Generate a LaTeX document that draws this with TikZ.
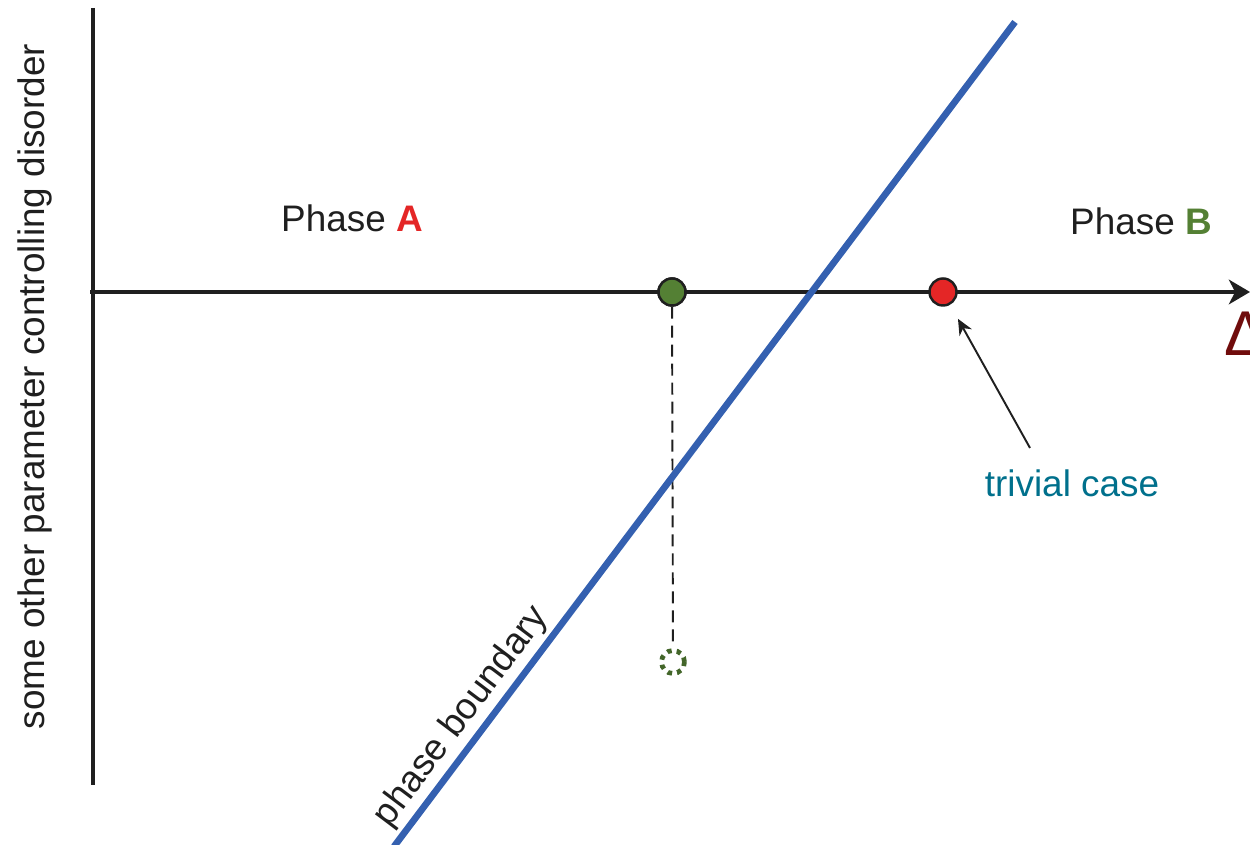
\documentclass[tikz,border=0pt]{standalone}
\usepackage{fontspec}
\setmainfont{Liberation Sans}
\usetikzlibrary{arrows.meta, positioning}
\definecolor{phaseA}{RGB}{228,38,38}
\definecolor{phaseB}{RGB}{84,128,52}
\definecolor{bndblue}{RGB}{52,96,176}
\definecolor{trivteal}{RGB}{0,112,140}
\definecolor{deltared}{RGB}{112,12,12}

\begin{document}
\begin{tikzpicture}[
    every node/.style={font=\fontsize{21}{25}\selectfont},
    axis/.style={line width=2.3pt, black!88},
    bnd/.style={line width=3.8pt, bndblue},
    dot/.style={circle, draw=black!88, line width=1.4pt, minimum size=0.54cm, inner sep=0pt},
    ghost/.style={circle, draw=phaseB!80!black, line width=2.7pt, dash pattern=on 2.6pt off 2.9pt,
                  minimum size=0.46cm, inner sep=0pt},
    lbl/.style={align=center, black!88},
]
\useasboundingbox (0,0) rectangle (25,16.9);
% the two axes
\coordinate (O) at (1.86,11.06);
\coordinate (Otop) at (1.86,16.74);
\coordinate (Obot) at (1.86,1.2);
\coordinate (Oleft) at (1.80,11.06);
\coordinate (Xend) at (25.0,11.06);
\draw[axis] (Otop) -- (Obot);
\draw[axis, -{Stealth[length=12pt, width=14pt, inset=3.5pt]}] (Oleft) -- (Xend);
\node[deltared, font=\fontsize{36}{40}\selectfont] (delta) at (24.92,10.22) {Δ};
% y axis label
\node[lbl, rotate=90] (ylab) at (0.7,9.17) {some other parameter controlling disorder};
% phase labels
\node[lbl] (pA) at (7.04,12.54) {Phase \textcolor{phaseA}{\textbf{A}}};
\node[lbl] (pB) at (22.82,12.48) {Phase \textcolor{phaseB}{\textbf{B}}};
% points on the axis and the shifted one below
\node[dot, fill=phaseB] (g) at (13.44,11.06) {};
\node[dot, fill=phaseA] (r) at (18.86,11.06) {};
\node[ghost] (gs) at (13.46,3.66) {};
\draw[black!88, line width=1.1pt, dash pattern=on 6.8pt off 4pt] (g) -- (gs);
% the phase boundary
\coordinate (b0) at (7.88,-0.03);
\coordinate (b1) at (20.3,16.46);
\draw[bnd] (b0) -- node[pos=0.14, sloped, above, inner sep=2pt, black!88]{phase boundary} (b1);
% redraw dots on top
\node[dot, fill=phaseB] at (g) {};
% trivial case
\node[trivteal] (tc) at (21.44,7.24) {trivial case};
\coordinate (tctail) at (20.6,7.94);
\draw[black!88, line width=1.1pt, -{Stealth[length=9pt, width=8pt]}, shorten >=0.32cm] (tctail) -- (r);
\end{tikzpicture}
\end{document}
